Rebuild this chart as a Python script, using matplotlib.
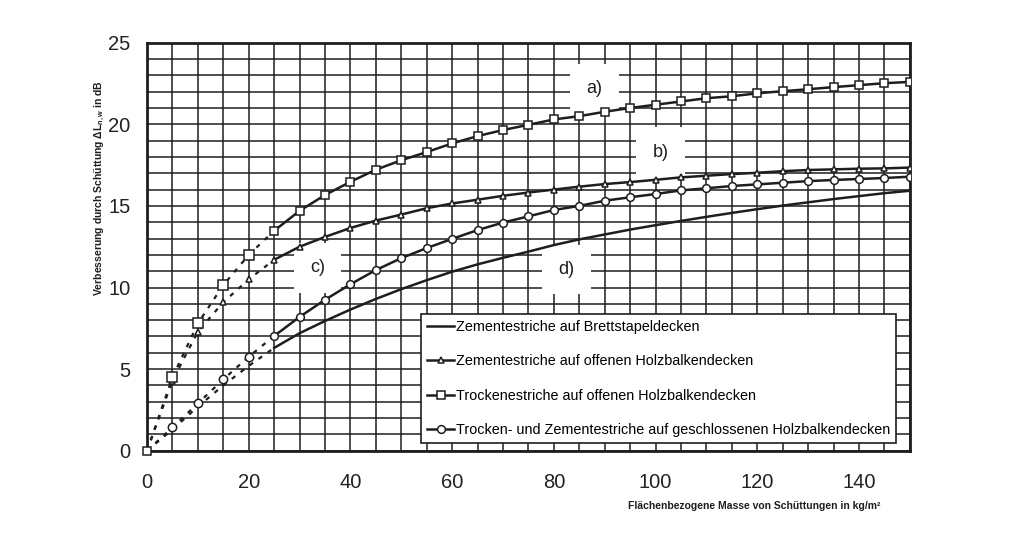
import numpy as np
import matplotlib.pyplot as plt
from matplotlib.ticker import MultipleLocator

plt.rcParams['font.family'] = ['Liberation Sans', 'DejaVu Sans']
plt.rcParams['mathtext.default'] = 'regular'

# flaechenbezogene Masse in kg/m2, step 5
masse = np.arange(0, 155, 5)

# a) Trockenestriche auf offenen Holzbalkendecken
a_vals = [0, 4.5, 7.8, 10.15, 12.0, 13.48, 14.7, 15.67, 16.48, 17.22,
          17.8, 18.3, 18.83, 19.28, 19.65, 19.97, 20.3, 20.5, 20.77, 21.0,
          21.2, 21.4, 21.6, 21.72, 21.9, 22.03, 22.15, 22.28, 22.4, 22.52, 22.6]
# b) Zementestriche auf offenen Holzbalkendecken
b_vals = [0, 4.3, 7.3, 9.1, 10.5, 11.7, 12.5, 13.1, 13.65, 14.1,
          14.47, 14.86, 15.15, 15.38, 15.62, 15.82, 16.0, 16.18, 16.34, 16.46,
          16.6, 16.75, 16.85, 16.95, 17.03, 17.13, 17.2, 17.24, 17.28, 17.3, 17.35]
# c) Trocken- und Zementestriche auf geschlossenen Holzbalkendecken
c_vals = [0, 1.43, 2.9, 4.37, 5.76, 7.03, 8.2, 9.25, 10.2, 11.07,
          11.8, 12.42, 12.98, 13.52, 13.98, 14.36, 14.75, 15.0, 15.32, 15.53,
          15.73, 15.95, 16.08, 16.22, 16.32, 16.42, 16.52, 16.59, 16.65, 16.71, 16.79]
# d) Zementestriche auf Brettstapeldecken
d_vals = [0, 1.3, 2.7, 4.0, 5.2, 6.3, 7.2, 7.95, 8.65, 9.3,
          9.9, 10.45, 10.97, 11.42, 11.82, 12.2, 12.6, 12.95, 13.25, 13.55,
          13.82, 14.08, 14.33, 14.57, 14.8, 15.02, 15.22, 15.42, 15.6, 15.78, 15.93]

labels = ['Zementestriche auf Brettstapeldecken',
          'Zementestriche auf offenen Holzbalkendecken',
          'Trockenestriche auf offenen Holzbalkendecken',
          'Trocken- und Zementestriche auf geschlossenen Holzbalkendecken']

ink = '#1e1e1e'

fig = plt.figure(figsize=(10.24, 5.34), dpi=100)
ax = fig.add_axes([0.1436, 0.156, 0.745, 0.764])

ax.set_xlim(0, 150)
ax.set_ylim(0, 25)
ax.xaxis.set_major_locator(MultipleLocator(20))
ax.xaxis.set_minor_locator(MultipleLocator(5))
ax.yaxis.set_major_locator(MultipleLocator(5))
ax.yaxis.set_minor_locator(MultipleLocator(1))
ax.grid(True, which='both', color=ink, lw=1.1, zorder=1)
ax.set_axisbelow(True)
ax.tick_params(which='both', length=0, labelsize=14.5, labelcolor='#222222')
ax.tick_params(axis='x', pad=16)
ax.tick_params(axis='y', pad=12)
for sp in ax.spines.values():
    sp.set_linewidth(2)
    sp.set_color(ink)

# (values, marker, size on dashed part, size on solid part)
series = [(d_vals, None, 0, 0), (b_vals, '^', 5, 4.3),
          (a_vals, 's', 6.5, 5.3), (c_vals, 'o', 6, 5.6)]
for (vals, mk, ms0, ms1), lab in zip(series, labels):
    vals = np.array(vals)
    # dashed part up to 25 kg/m2
    ax.plot(masse[:6], vals[:6], ls=(0, (2, 3)), lw=1.6, color=ink,
            marker=mk, ms=ms0, mfc='white', mec=ink, mew=1.1,
            markevery=list(range(1, 5)) if mk else None, zorder=4)
    ax.plot(masse[5:], vals[5:], ls='-', lw=1.8, color=ink,
            marker=mk, ms=ms1, mfc='white', mec=ink, mew=1.1, label=lab, zorder=4)

# square at origin
ax.plot([0], [0], ls='none', marker='s', ms=6, mfc='white', mec=ink, mew=1.1,
        zorder=5, clip_on=False)

box = dict(boxstyle='square,pad=0.9', fc='white', ec='none')
for txt, x, y in [('a)', 88, 22.2), ('b)', 101, 18.3), ('c)', 33.5, 11.2), ('d)', 82.5, 11.1)]:
    ax.text(x, y, txt, fontsize=13, ha='center', va='center', color=ink,
            bbox=box, zorder=3)

handles, labs = ax.get_legend_handles_labels()
leg = ax.legend(handles, labs, loc='lower right', bbox_to_anchor=(0.982, 0.0185),
                fontsize=10.35, frameon=True, fancybox=False, edgecolor=ink,
                framealpha=1, handlelength=1.9, handletextpad=0.12,
                labelspacing=1.42, borderpad=0.42, borderaxespad=0,
                markerscale=1.0)
leg.get_frame().set_linewidth(1.2)
leg.set_zorder(6)

fig.text(880 / 1024, (534 - 506) / 534,
         'Flächenbezogene Masse von Schüttungen in kg/m²',
         fontsize=7.5, fontweight='bold', ha='right', va='center', color=ink)
fig.text(100 / 1024, (534 - 188) / 534,
         r'Verbesserung durch Schüttung $\Delta$L$_{n,w}$ in dB',
         fontsize=7.5, fontweight='bold', rotation=90, ha='center', va='center', color=ink)

fig.savefig('out.png', dpi=100, facecolor='white')
